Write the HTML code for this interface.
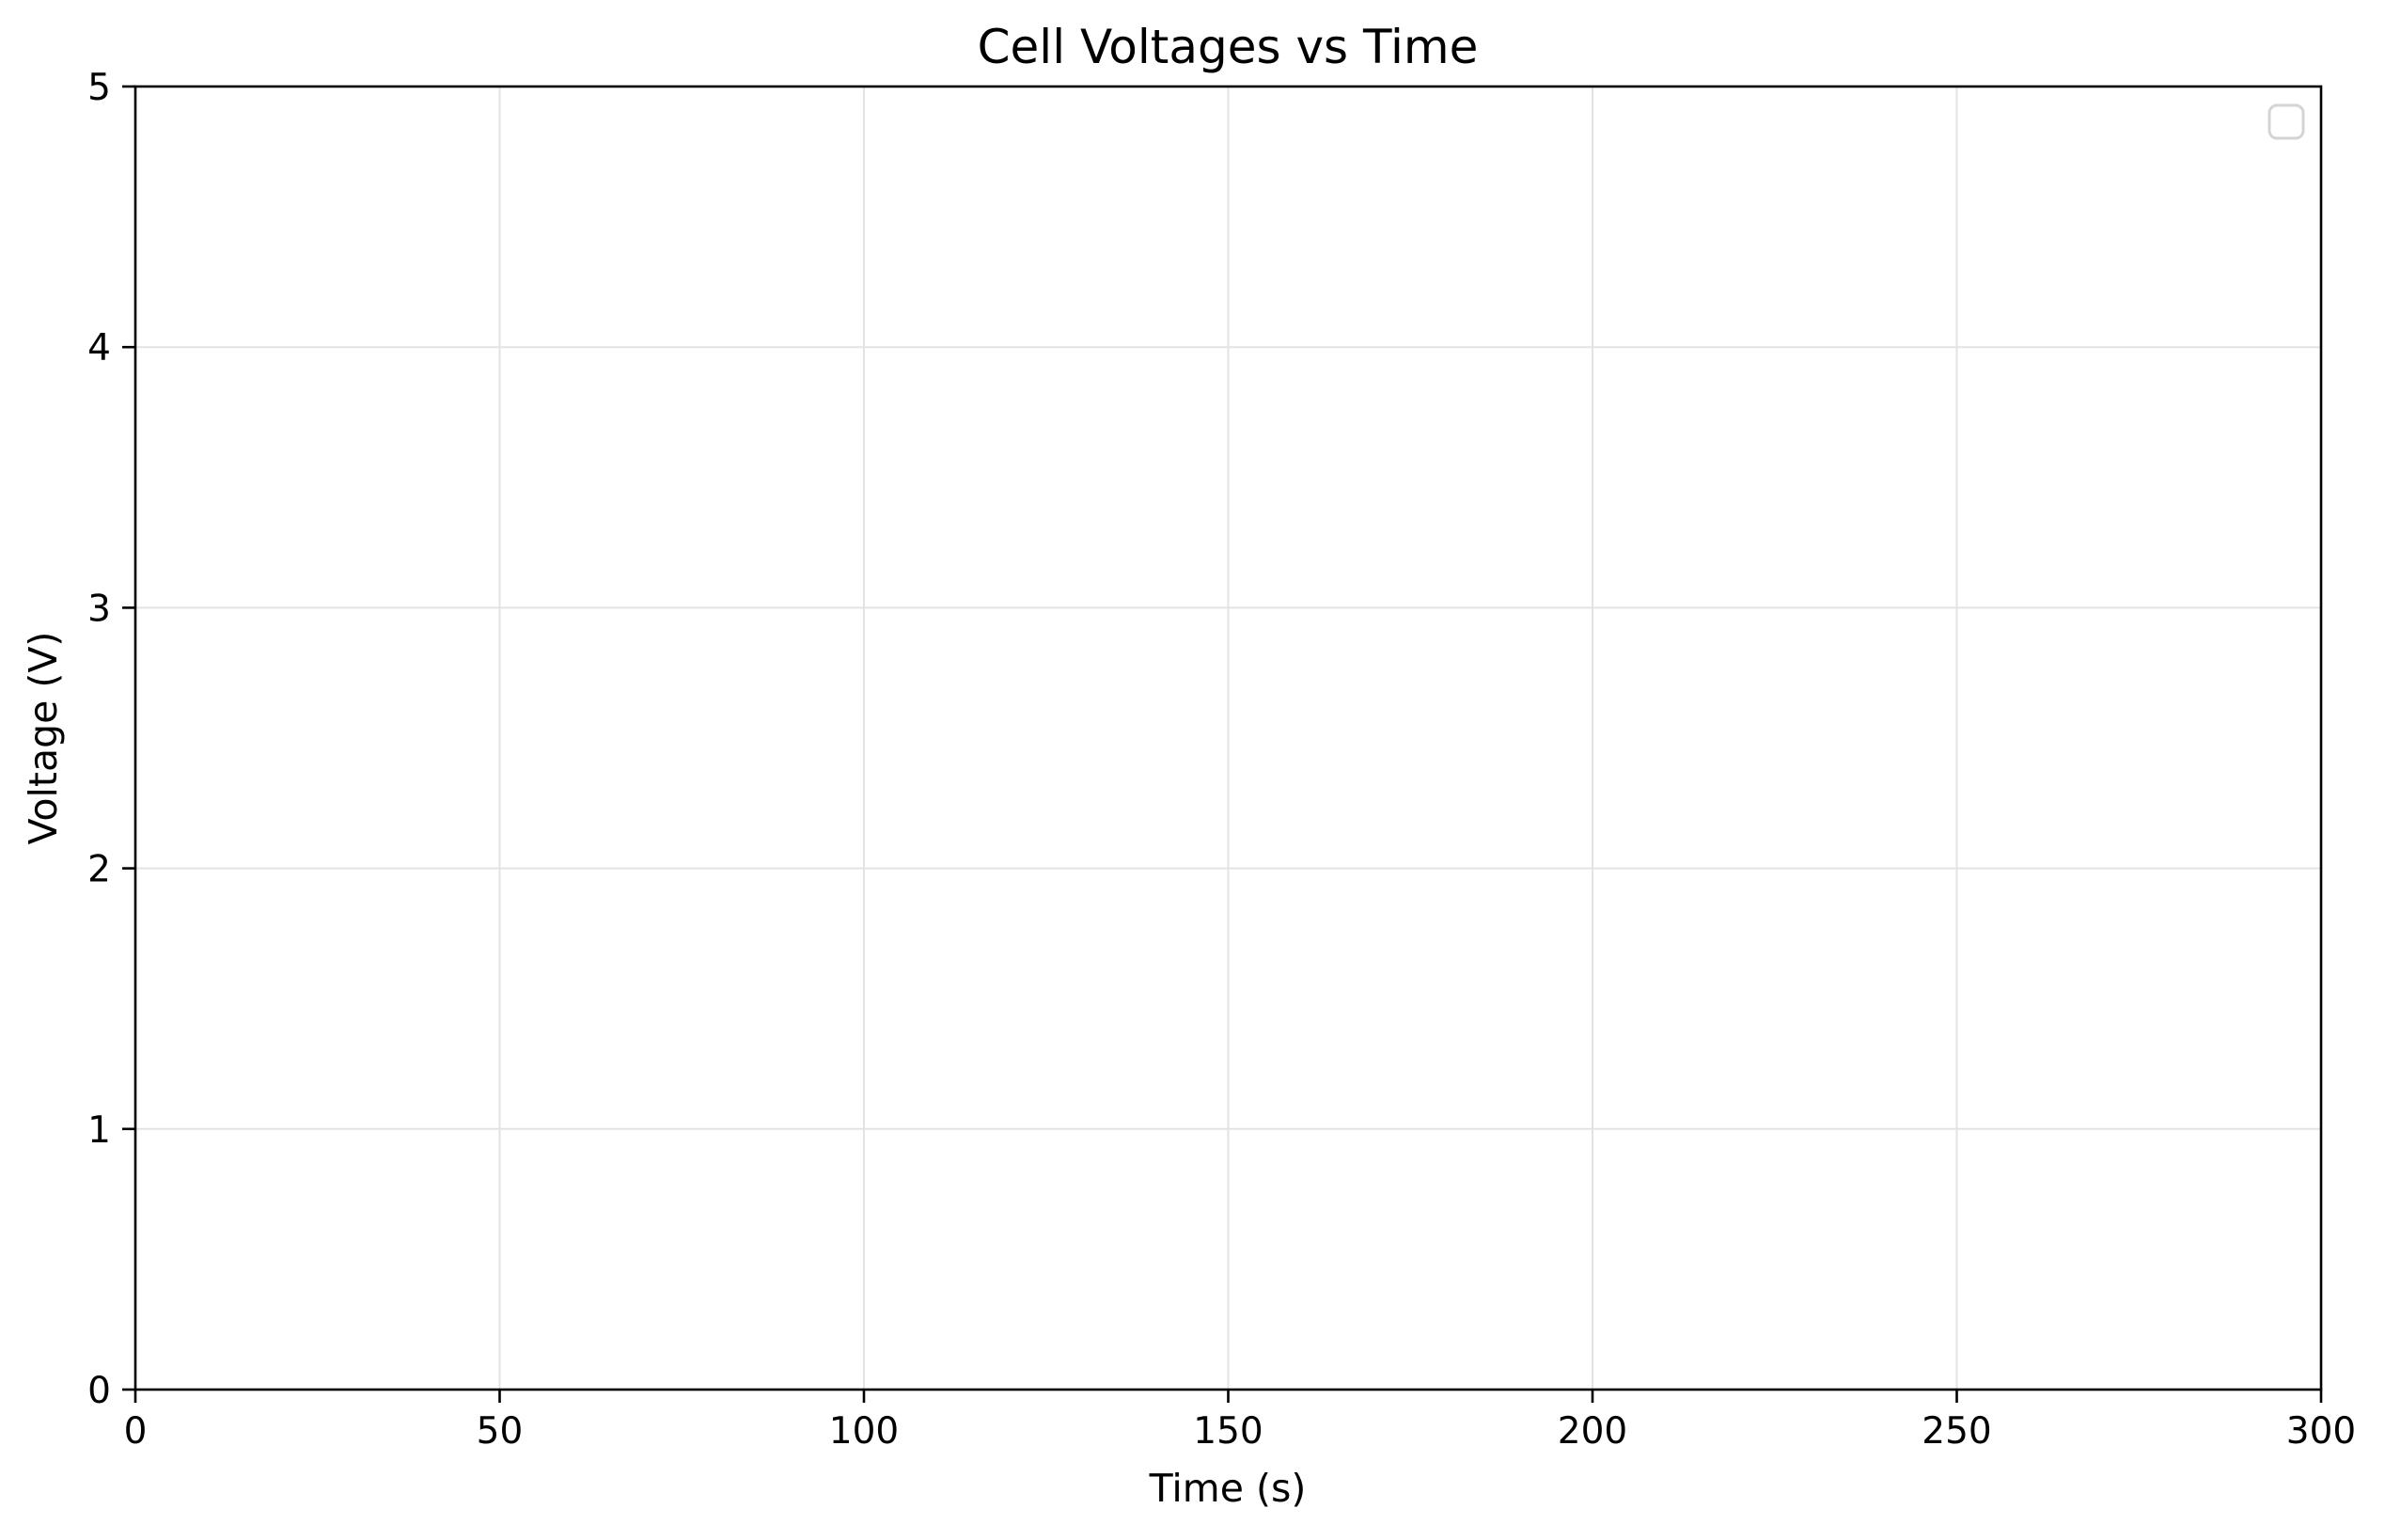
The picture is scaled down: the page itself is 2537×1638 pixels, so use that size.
<!DOCTYPE html>
<html><head><meta charset="utf-8"><style>
html,body{margin:0;padding:0;background:#fff;}
svg{display:block;font-family:"DejaVu Sans","Liberation Sans",sans-serif;}
</style></head><body>
<svg id="chart" width="2537" height="1638" viewBox="0 0 2537 1638" xmlns="http://www.w3.org/2000/svg">
<rect width="2537" height="1638" fill="#fff"/>
<g id="grid"></g>
<g id="ticks"></g>
<rect x="144" y="92" width="2325" height="1386" fill="none" stroke="#000" stroke-width="2.6"/>
<text x="1306" y="67" font-size="50" text-anchor="middle">Cell Voltages vs Time</text>
<text x="1306" y="1597" font-size="41" text-anchor="middle">Time (s)</text>
<text x="60" y="785" font-size="41" text-anchor="middle" transform="rotate(-90 60 785)">Voltage (V)</text>
<rect x="2414" y="112" width="36" height="35" rx="8" fill="#fff" stroke="#d4d4d4" stroke-width="3"/>
</svg>
<script>
const xTicks = [0, 50, 100, 150, 200, 250, 300];
const yTicks = [0, 1, 2, 3, 4, 5];
const xMin = 0, xMax = 300, yMin = 0, yMax = 5;
const L = 144, R = 2469, T = 92, B = 1478;
const NS = "http://www.w3.org/2000/svg";
function sx(v){ return L + (v - xMin) / (xMax - xMin) * (R - L); }
function sy(v){ return B - (v - yMin) / (yMax - yMin) * (B - T); }
const grid = document.getElementById('grid');
const ticks = document.getElementById('ticks');
function mk(tag, attrs, parent){
  const e = document.createElementNS(NS, tag);
  for (const k in attrs) e.setAttribute(k, attrs[k]);
  parent.appendChild(e);
  return e;
}
xTicks.forEach(v => {
  const x = sx(v);
  const g = mk('line', {x1:x, x2:x, y1:T, y2:B, stroke:'#e3e3e3', 'stroke-width':2}, grid);
  
  
  const t = mk('line', {x1:x, x2:x, y1:B, y2:B+14, stroke:'#000', 'stroke-width':2.6}, ticks);
  
  
  const l = mk('text', {x:x, y:B+57, 'font-size':39, 'text-anchor':'middle'}, ticks);
  l.textContent = v;
  
  
});
yTicks.forEach(v => {
  const y = sy(v);
  const g = mk('line', {x1:L, x2:R, y1:y, y2:y, stroke:'#e3e3e3', 'stroke-width':2}, grid);
  
  
  const t = mk('line', {x1:L-14, x2:L, y1:y, y2:y, stroke:'#000', 'stroke-width':2.6}, ticks);
  
  
  const l = mk('text', {x:L-26, y:y+14, 'font-size':39, 'text-anchor':'end'}, ticks);
  l.textContent = v;
  
  
});
</script>
</body></html>
